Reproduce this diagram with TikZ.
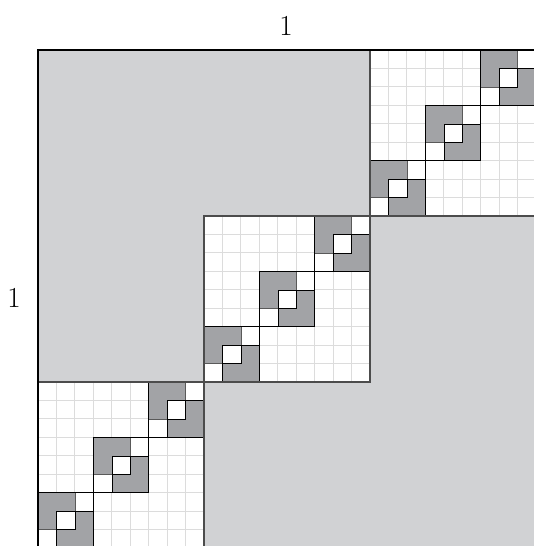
\documentclass[tikz,border=0pt]{standalone}
\usepackage{xcolor}
\usepackage{tikz}
\definecolor{lightgrey}{HTML}{D1D2D4}
\definecolor{midgrey}{HTML}{A2A3A6}
\definecolor{gridgrey}{HTML}{DCDCDC}
\tikzset{
  gridline/.style={draw=gridgrey, line width=1pt},
  blockedge/.style={draw=black!70, line width=1.2pt},
  label/.style={font=\fontsize{29}{31}\selectfont, inner sep=0pt}
}

\begin{document}
\begin{tikzpicture}[x=1pt, y=-1pt]
\useasboundingbox (0,0) rectangle (534,546);
\node[label] (toplabel) at (286,26) {1};
\node[label] (leftlabel) at (14,298) {1};

\begin{scope}
\clip (0,0) rectangle (534,546);
\begin{scope}[shift={(38,50)}, x=18.444pt, y=-18.444pt]
% off-diagonal background
\fill[lightgrey] (0,0) rectangle (27,27);
\foreach \k in {0,1,2}{
  \pgfmathtruncatemacro\bx{9*\k}
  \pgfmathtruncatemacro\by{18-9*\k}
  \fill[white] (\bx,\by) rectangle ++(9,9);
  \foreach \i in {1,...,8}{
    \draw[gridline] (\bx+\i,\by) -- ++(0,9);
    \draw[gridline] (\bx,\by+\i) -- ++(9,0);
  }
  % small diagonal cells
  \foreach \j in {0,1,2}{
    \pgfmathtruncatemacro\sx{\bx+3*\j}
    \pgfmathtruncatemacro\sy{\by+6-3*\j}
    \fill[white] (\sx,\sy) rectangle ++(3,3);
    \filldraw[fill=midgrey, draw=black!65] (\sx,\sy) rectangle ++(2,2);
    \filldraw[fill=midgrey, draw=black] (\sx+1,\sy+1) rectangle ++(2,2);
    \filldraw[fill=white, draw=black] (\sx+1,\sy+1) rectangle ++(1,1);
    \draw (\sx,\sy) rectangle ++(3,3);
  }
  \draw[blockedge] (\bx,\by) rectangle ++(9,9);
}
\draw[line width=2pt] (0,0) rectangle (27,27);
\end{scope}
\end{scope}
\end{tikzpicture}
\end{document}
